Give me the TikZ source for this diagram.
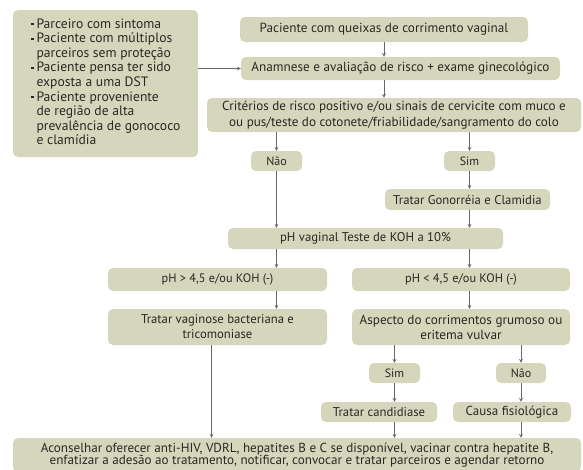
\documentclass[tikz,border=0pt]{standalone}
\usepackage{fontspec}
\setmainfont{PT Sans}
\usepackage{tikz}
\usetikzlibrary{arrows}
\definecolor{caixa}{RGB}{214,214,188}
\definecolor{texto}{RGB}{40,40,36}
\definecolor{linha}{RGB}{105,105,105}
\newcommand{\marca}{\rule[2.8pt]{3pt}{2.2pt}}

\begin{document}
\begin{tikzpicture}[
    x=1pt, y=-1pt,
    every node/.style={fill=caixa, rounded corners=5pt, text=texto, inner sep=1pt, align=center, font=\fontsize{12.7}{15}\selectfont},
    arrow/.style={->, >=stealth, draw=linha, line width=0.7pt}
]
    \useasboundingbox (0,0) rectangle (583,469);

    \node (risco) at (105.5,83.5) [minimum width=185, minimum height=147, font=\fontsize{13.6}{14.6}\selectfont] {%
        \begin{tabular}{@{}l@{\hspace{3pt}}l@{}}
        \marca & Parceiro com sintoma\\
        \marca & Paciente com múltiplos\\
               & parceiros sem proteção\\
        \marca & Paciente pensa ter sido\\
               & exposta a uma DST\\
        \marca & Paciente proveniente\\
               & de região de alta\\
               & prevalência de gonococo\\
               & e clamídia
        \end{tabular}};
    \node (queixa) at (384,29.5) [minimum width=288, minimum height=25, font=\fontsize{13.2}{15}\selectfont] {Paciente com queixas de corrimento vaginal};
    \node (anamnese) at (400.5,68.5) [minimum width=319, minimum height=23, font=\fontsize{13.2}{15}\selectfont] {Anamnese e avaliação de risco + exame ginecológico};
    \node (criterio) at (394,115) [minimum width=374, minimum height=34, font=\fontsize{13.1}{15.5}\selectfont] {Critérios de risco positivo e/ou sinais de cervicite com muco e\\ ou pus/teste do cotonete/friabilidade/sangramento do colo};
    \node (nao1) at (276.5,161) [minimum width=51, minimum height=20, font=\fontsize{12}{14}\selectfont] {Não};
    \node (sim1) at (469.5,161) [minimum width=51, minimum height=20, font=\fontsize{12}{14}\selectfont] {Sim};
    \node (gono) at (467.5,199.5) [minimum width=165, minimum height=21] {Tratar Gonorréia e Clamidia};
    \node (koh) at (365.5,238.5) [minimum width=275, minimum height=21] {pH vaginal Teste de KOH a 10\%};
    \node (phalto) at (217.5,279.5) [minimum width=219, minimum height=23, font=\fontsize{12.3}{14}\selectfont] {pH > 4,5 e/ou KOH (-)};
    \node (phbaixo) at (461,279.5) [minimum width=218, minimum height=23, font=\fontsize{12.3}{14}\selectfont] {pH < 4,5 e/ou KOH (-)};
    \node (vaginose) at (217.5,327) [minimum width=219, minimum height=36] {Tratar vaginose bacteriana e\\ tricomoniase};
    \node (aspecto) at (461,327) [minimum width=218, minimum height=36, font=\fontsize{13.2}{15}\selectfont] {Aspecto do corrimentos grumoso ou\\ eritema vulvar};
    \node (sim2) at (394.5,373) [minimum width=51, minimum height=20, font=\fontsize{12}{14}\selectfont] {Sim};
    \node (nao2) at (521,373) [minimum width=50, minimum height=20, font=\fontsize{12}{14}\selectfont] {Não};
    \node (candida) at (379,412) [minimum width=116, minimum height=20] {Tratar candidiase};
    \node (causa) at (512,412) [minimum width=118, minimum height=20, font=\fontsize{13}{15}\selectfont] {Causa fisiológica};
    \node (conduta) at (297,455) [minimum width=568, minimum height=34, font=\fontsize{13.1}{12.4}\selectfont] {Aconselhar oferecer anti-HIV, VDRL, hepatites B e C se disponível, vacinar contra hepatite B,\\ enfatizar a adesão ao tratamento, notificar, convocar e tratar parceiros e agendar retorno};

    \draw[arrow] (risco.east |- anamnese.west) -- (anamnese.west);
    \draw[arrow] (queixa.south) -- (queixa.south |- anamnese.north);
    \draw[arrow] (queixa.south |- anamnese.south) -- (queixa.south |- criterio.north);
    \draw[arrow] (nao1 |- criterio.south) -- (nao1.north);
    \draw[arrow] (sim1 |- criterio.south) -- (sim1.north);
    \draw[arrow] (sim1.south) -- (sim1 |- gono.north);
    \draw[arrow] (nao1.south) -- (nao1 |- koh.north);
    \draw[arrow] (sim1 |- gono.south) -- (sim1 |- koh.north);
    \draw[arrow] (nao1 |- koh.south) -- (nao1 |- phalto.north);
    \draw[arrow] (sim1 |- koh.south) -- (sim1 |- phbaixo.north);
    \draw[arrow] (nao1 |- phalto.south) -- (nao1 |- vaginose.north);
    \draw[arrow] (sim1 |- phbaixo.south) -- (sim1 |- aspecto.north);
    \draw[arrow] (sim2 |- aspecto.south) -- (sim2.north);
    \draw[arrow] (nao2 |- aspecto.south) -- (nao2.north);
    \draw[arrow] (sim2.south) -- (sim2 |- candida.north);
    \draw[arrow] (nao2.south) -- (nao2 |- causa.north);
    \draw[arrow] (sim2 |- candida.south) -- (sim2 |- conduta.north);
    \draw[arrow] (nao2 |- causa.south) -- (nao2 |- conduta.north);
    \draw[arrow] ([xshift=-6pt]vaginose.south) -- ([xshift=-6pt]vaginose.south |- conduta.north);
\end{tikzpicture}
\end{document}
